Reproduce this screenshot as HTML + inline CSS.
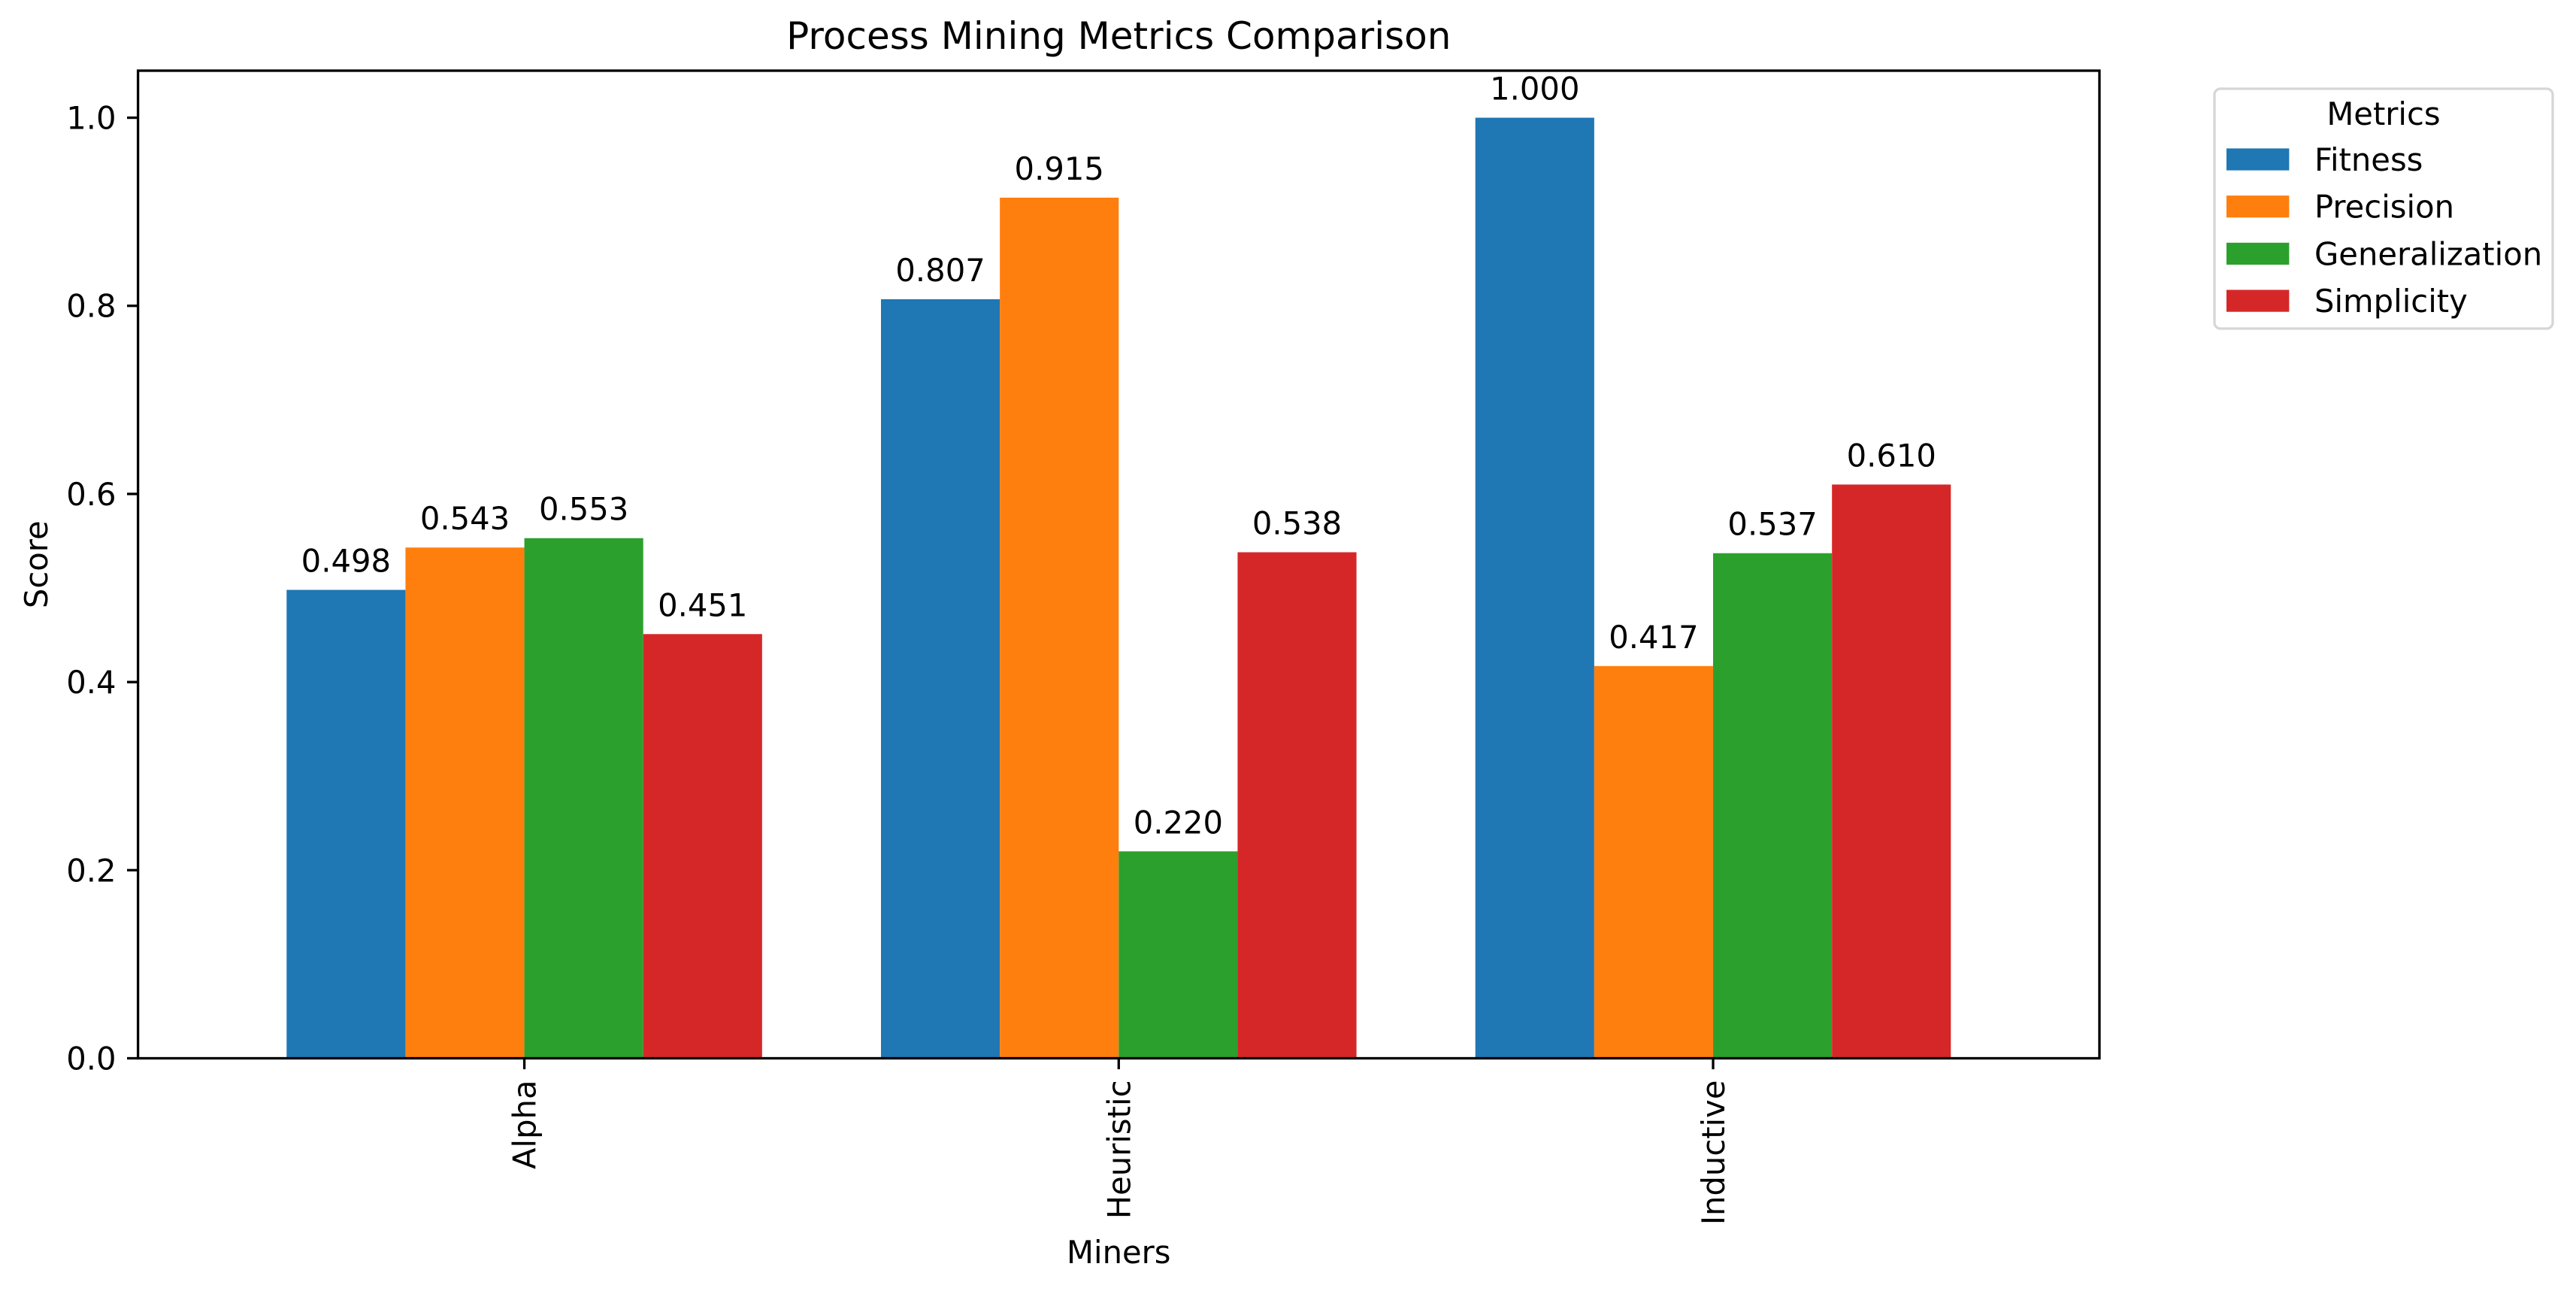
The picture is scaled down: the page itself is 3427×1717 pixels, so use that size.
<!DOCTYPE html>
<html><head><meta charset="utf-8"><style>
html,body{margin:0;padding:0;background:#fff;}
svg{display:block;font-family:"DejaVu Sans","Liberation Sans",sans-serif;}
</style></head><body>
<svg id="chart" width="3427" height="1717" viewBox="0 0 3427 1717" xmlns="http://www.w3.org/2000/svg">
<rect width="3427" height="1717" fill="#fff"/>
</svg>
<script>
const categories = ["Alpha", "Heuristic", "Inductive"];
const seriesNames = ["Fitness", "Precision", "Generalization", "Simplicity"];
const fitness = [0.498, 0.807, 1.000];
const precision = [0.543, 0.915, 0.417];
const generalization = [0.553, 0.220, 0.537];
const simplicity = [0.451, 0.538, 0.610];
const yTicks = [0.0, 0.2, 0.4, 0.6, 0.8, 1.0];
const colors = ["#1f77b4", "#ff7f0e", "#2ca02c", "#d62728"];

const svg = document.getElementById('chart');
const NS = 'http://www.w3.org/2000/svg';
const L = 183.6, R = 2793, T = 94, B = 1407.5;
const xMin = -0.65, xMax = 2.65, yMin = 0, yMax = 1.05;
const fs = 41.7;
function xs(v){ return L + (v - xMin) / (xMax - xMin) * (R - L); }
function ys(v){ return B - (v - yMin) / (yMax - yMin) * (B - T); }
function mk(tag, attrs, parent){
  const e = document.createElementNS(NS, tag);
  for (const k in attrs) e.setAttribute(k, attrs[k]);
  (parent || svg).appendChild(e);
  return e;
}
const series = [fitness, precision, generalization, simplicity];
const barW = 0.2;

series.forEach((vals, si) => {
  vals.forEach((v, ci) => {
    const x0 = ci - 0.4 + si * barW;
    const r = mk('rect', {x: xs(x0), y: ys(v), width: xs(x0 + barW) - xs(x0), height: ys(0) - ys(v), fill: colors[si]});
    
    
    const t = mk('text', {x: xs(x0 + barW / 2), y: ys(v) - 24, 'font-size': fs, 'text-anchor': 'middle'});
    t.textContent = v.toFixed(3);
    
    
  });
});

const frame = mk('rect', {x: L, y: T, width: R - L, height: B - T, fill: 'none', stroke: '#000', 'stroke-width': 3.3});



yTicks.forEach(v => {
  const y = ys(v);
  const tk = mk('line', {x1: L - 14.6, x2: L, y1: y, y2: y, stroke: '#000', 'stroke-width': 3.3});
  
  
  const t = mk('text', {x: L - 29, y: y + 15, 'font-size': fs, 'text-anchor': 'end'});
  t.textContent = v.toFixed(1);
  
  
});

categories.forEach((c, i) => {
  const x = xs(i);
  const tk = mk('line', {x1: x, x2: x, y1: B, y2: B + 14.6, stroke: '#000', 'stroke-width': 3.3});
  
  
  const t = mk('text', {x: 0, y: 0, 'font-size': fs, 'text-anchor': 'end', transform: `translate(${x + 15},${B + 29}) rotate(-90)`});
  t.textContent = c;
  
  
});

const title = mk('text', {x: (L + R) / 2, y: 65, 'font-size': 50, 'text-anchor': 'middle'});
title.textContent = 'Process Mining Metrics Comparison';


const xl = mk('text', {x: (L + R) / 2, y: 1680, 'font-size': fs, 'text-anchor': 'middle'});
xl.textContent = 'Miners';


const yl = mk('text', {x: 0, y: 0, 'font-size': fs, 'text-anchor': 'middle', transform: `translate(63,${(T + B) / 2}) rotate(-90)`});
yl.textContent = 'Score';



const lg = mk('g', {});


const lbox = mk('rect', {x: 2946, y: 118, width: 450, height: 319, rx: 8, fill: '#fff', 'fill-opacity': 0.8, stroke: '#d6d6d6', 'stroke-width': 3.3}, lg);


const lt = mk('text', {x: 3171, y: 166, 'font-size': fs, 'text-anchor': 'middle'}, lg);
lt.textContent = 'Metrics';


seriesNames.forEach((n, i) => {
  const cy = 212 + i * 62.7;
  const p = mk('rect', {x: 2962, y: cy - 14.6, width: 83.4, height: 29.2, fill: colors[i]}, lg);
  
  
  const t = mk('text', {x: 3079, y: cy + 15, 'font-size': fs}, lg);
  t.textContent = n;
  
  
});
</script>
</body></html>
